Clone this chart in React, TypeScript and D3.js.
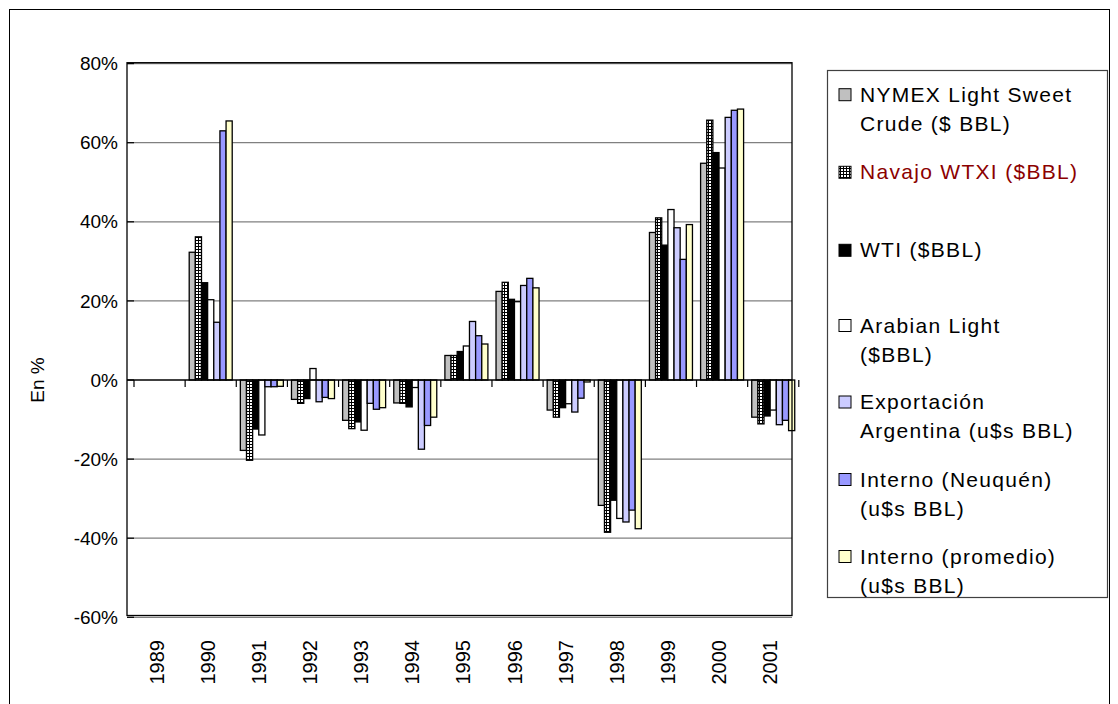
import React from "react";
import * as d3 from "d3";

// Annual % change of crude oil reference prices
const years = ["1989", "1990", "1991", "1992", "1993", "1994", "1995", "1996", "1997", "1998", "1999", "2000", "2001"];

const nymex: (number | null)[] = [null, 32.3, -17.8, -4.9, -10.2, -5.8, 6.2, 22.4, -7.6, -31.7, 37.3, 54.8, -9.4];
const navajo: (number | null)[] = [null, 36.2, -20.3, -5.9, -12.3, -5.9, 6.2, 24.7, -9.4, -38.5, 41.0, 65.7, -11.1];
const wti: (number | null)[] = [null, 24.6, -12.4, -4.7, -10.6, -6.8, 7.2, 20.4, -7.0, -30.4, 34.1, 57.5, -9.1];
const arabian: (number | null)[] = [null, 20.3, -13.9, 2.9, -12.7, -1.9, 8.6, 19.8, -6.0, -35.0, 43.1, 53.6, -7.6];
const exportacion: (number | null)[] = [null, 14.6, -1.7, -5.5, -5.9, -17.5, 14.8, 23.9, -8.1, -35.9, 38.5, 66.4, -11.3];
const neuquen: (number | null)[] = [null, 63.0, -1.7, -4.4, -7.4, -11.5, 11.2, 25.7, -4.6, -32.9, 30.5, 68.2, -10.2];
const promedio: (number | null)[] = [null, 65.5, -1.6, -4.7, -7.0, -9.4, 9.1, 23.3, -0.5, -37.6, 39.3, 68.5, -12.8];

const yTicks = [80, 60, 40, 20, 0, -20, -40, -60];

type Series = { key: string; lines: string[]; values: (number | null)[]; fill: string; textColor: string };

const series: Series[] = [
  { key: "nymex", lines: ["NYMEX Light Sweet", "Crude ($ BBL)"], values: nymex, fill: "#c0c0c0", textColor: "#000" },
  { key: "navajo", lines: ["Navajo WTXI ($BBL)"], values: navajo, fill: "url(#navajoGrid)", textColor: "#8b0000" },
  { key: "wti", lines: ["WTI ($BBL)"], values: wti, fill: "#000000", textColor: "#000" },
  { key: "arabian", lines: ["Arabian Light", "($BBL)"], values: arabian, fill: "#ffffff", textColor: "#000" },
  { key: "export", lines: ["Exportación", "Argentina (u$s BBL)"], values: exportacion, fill: "#ccccff", textColor: "#000" },
  { key: "neuquen", lines: ["Interno (Neuquén)", "(u$s BBL)"], values: neuquen, fill: "#9999ff", textColor: "#000" },
  { key: "promedio", lines: ["Interno (promedio)", "(u$s BBL)"], values: promedio, fill: "#ffffcc", textColor: "#000" },
];

const legendBaselines = [101.7, 179.3, 257.3, 332.5, 409, 486.5, 563.5];

const FONT = "'Liberation Sans', Arial, sans-serif";

export default function App() {
  const frame = { left: 127, right: 792, top: 62.7, bottom: 615.5 };

  const x = d3.scaleBand<string>().domain(years).range([134, 798.8]).paddingInner(0.159).paddingOuter(0.0795);
  const step = x.step();
  const xs = d3.scaleBand<string>().domain(series.map((s) => s.key)).range([0, x.bandwidth()]);
  const y = d3.scaleLinear().domain([-60, 80]).range([617.3, 63.6]);
  const y0 = y(0);

  return (
    <div style={{ position: "fixed", left: 0, top: 0 }}>
      <svg width={1118} height={704} style={{ display: "block", background: "#fff", fontFamily: FONT }}>
        <defs>
          <pattern id="navajoGrid" width={3} height={3} patternUnits="userSpaceOnUse">
            <rect width={3} height={3} fill="#000" />
            <rect x={1} y={1} width={2} height={2} fill="#fff" />
          </pattern>
        </defs>

        {/* outer chart border */}
        <rect x={9.5} y={9.5} width={1100} height={700} fill="#fff" stroke="#000" strokeWidth={1} />

        {/* gridlines */}
        {yTicks
          .filter((t) => t !== 0)
          .map((t) => (
            <line key={`g${t}`} x1={frame.left} x2={frame.right} y1={y(t)} y2={y(t)} stroke="#808080" strokeWidth={1.2} />
          ))}

        {/* bars */}
        {series.map((s) =>
          s.values.map((v, i) => {
            if (v === null) return null;
            const bx = (x(years[i]) as number) + (xs(s.key) as number);
            const top = Math.min(y(v), y0);
            const h = Math.abs(y(v) - y0);
            return (
              <rect
                key={`${s.key}-${i}`}
                x={bx}
                y={top}
                width={xs.bandwidth()}
                height={h}
                fill={s.fill}
                stroke="#000"
                strokeWidth={1.3}
              />
            );
          })
        )}

        {/* plot frame */}
        <rect
          x={frame.left}
          y={frame.top}
          width={frame.right - frame.left}
          height={frame.bottom - frame.top}
          fill="none"
          stroke="#000"
          strokeWidth={1.3}
        />

        {/* zero axis and category ticks */}
        <line x1={frame.left} x2={frame.right} y1={y0} y2={y0} stroke="#000" strokeWidth={1.3} />
        {d3.range(years.length + 1).map((k) => {
          const tx = 134 + k * step;
          return <line key={`xt${k}`} x1={tx} x2={tx} y1={y0} y2={y0 + 7} stroke="#000" strokeWidth={1.2} />;
        })}

        {/* y ticks and labels */}
        {yTicks.map((t) => (
          <g key={`yt${t}`}>
            <line x1={frame.left} x2={frame.left + 7} y1={y(t)} y2={y(t)} stroke="#000" strokeWidth={1.2} />
            <text x={118} y={y(t)} dy="0.35em" textAnchor="end" fontSize={19} fill="#000">
              {`${t}%`}
            </text>
          </g>
        ))}

        {/* y axis title */}
        <text transform={`translate(44,${y0}) rotate(-90)`} textAnchor="middle" fontSize={19} fill="#000">
          En %
        </text>

        {/* category labels */}
        {years.map((yr) => {
          const cx = (x(yr) as number) + x.bandwidth() / 2;
          return (
            <text key={`xl${yr}`} transform={`translate(${cx + 4},640) rotate(-90)`} textAnchor="end" fontSize={20} fill="#000">
              {yr}
            </text>
          );
        })}

        {/* legend */}
        <rect x={827.5} y={70.5} width={280} height={527} fill="#fff" stroke="#404040" strokeWidth={1.2} />
        {series.map((s, i) => {
          const base = legendBaselines[i];
          return (
            <g key={`lg${s.key}`}>
              <rect x={839} y={base - 13} width={12} height={12} fill={s.fill} stroke="#000" strokeWidth={1} />
              {s.lines.map((ln, j) => (
                <text key={j} x={860} y={base + j * 29} fontSize={21} letterSpacing={1.3} fill={s.textColor}>
                  {ln}
                </text>
              ))}
            </g>
          );
        })}
      </svg>
    </div>
  );
}
